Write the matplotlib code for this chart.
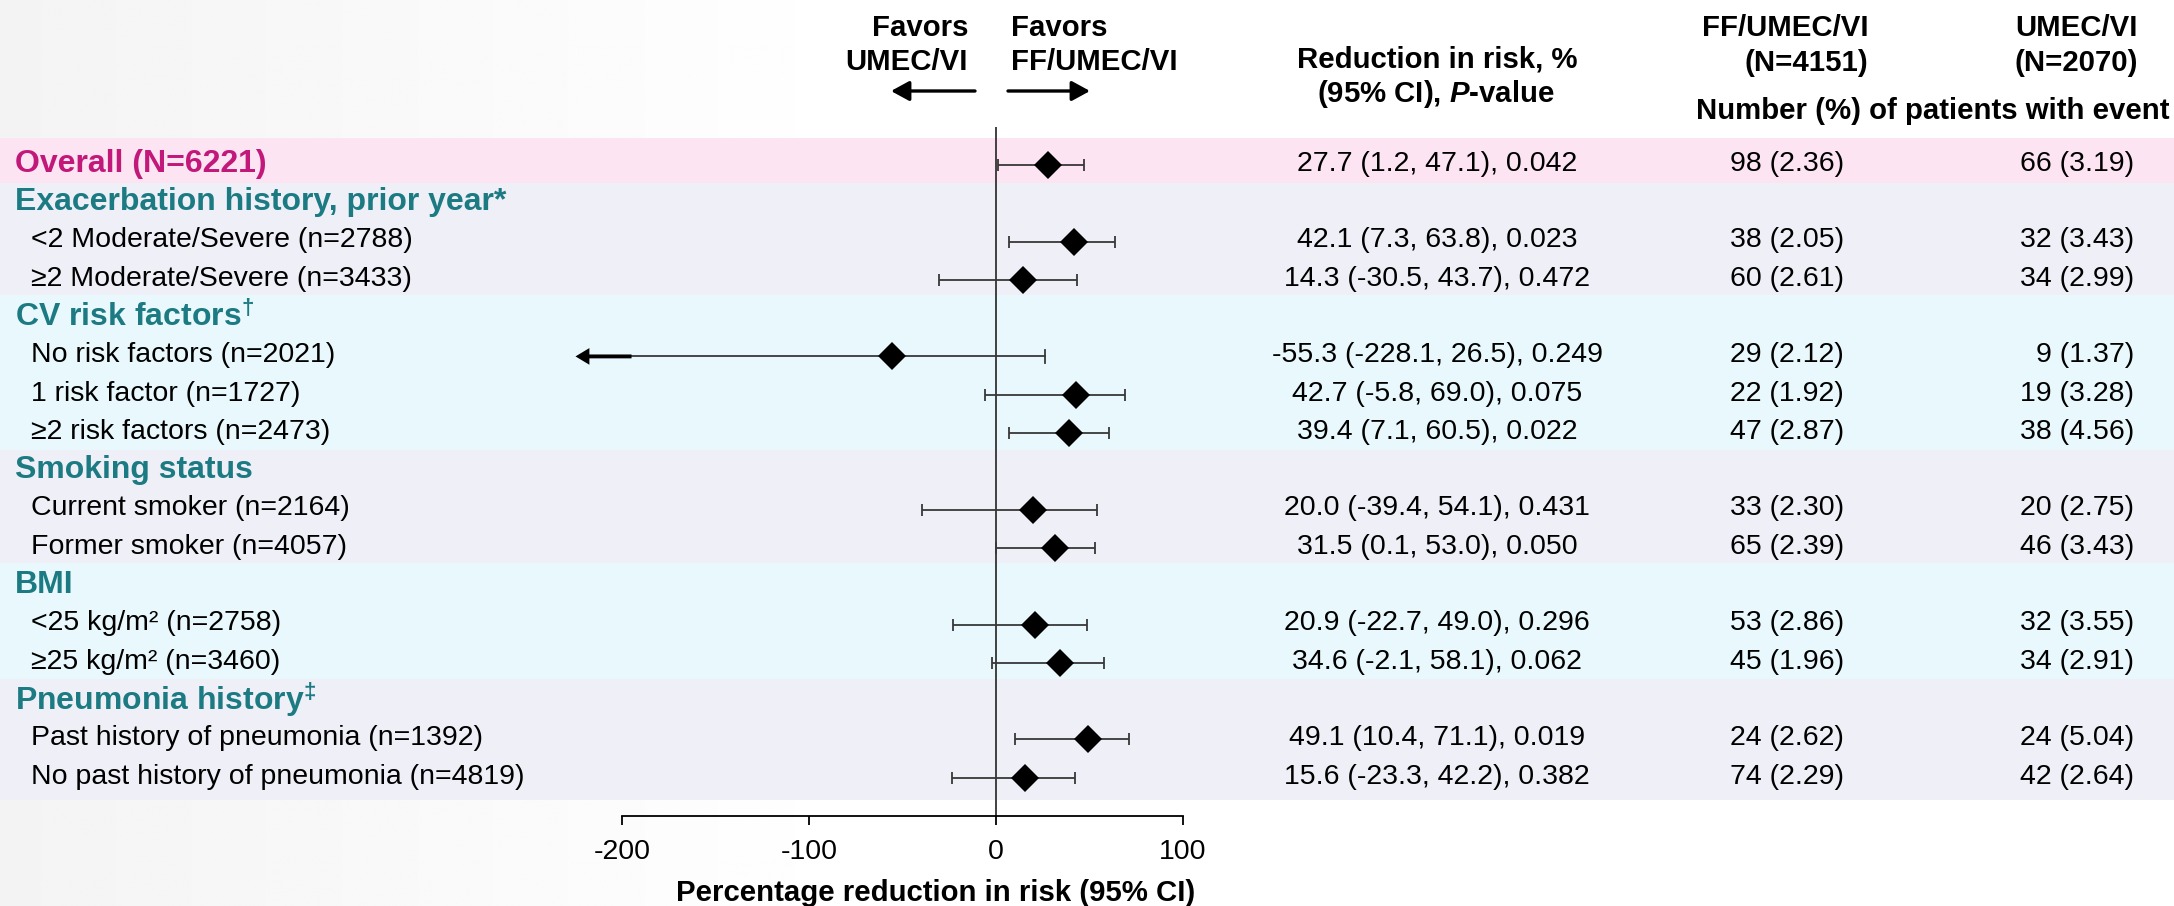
import numpy as np
import matplotlib
matplotlib.use("Agg")
import matplotlib.pyplot as plt

plt.rcParams['font.family'] = ['Liberation Sans', 'DejaVu Sans']
plt.rcParams['axes.unicode_minus'] = False
plt.rcParams['mathtext.fontset'] = 'custom'
plt.rcParams['mathtext.rm'] = 'Liberation Sans:bold'
plt.rcParams['mathtext.it'] = 'Liberation Sans:bold:italic'
plt.rcParams['mathtext.bf'] = 'Liberation Sans:bold'

# ---- data ----
labels = [
    "Overall (N=6221)",
    "Exacerbation history, prior year*",
    "<2 Moderate/Severe (n=2788)",
    "\u22652 Moderate/Severe (n=3433)",
    r"CV risk factors$^{\dagger}$",
    "No risk factors (n=2021)",
    "1 risk factor (n=1727)",
    "\u22652 risk factors (n=2473)",
    "Smoking status",
    "Current smoker (n=2164)",
    "Former smoker (n=4057)",
    "BMI",
    "<25 kg/m\u00b2 (n=2758)",
    "\u226525 kg/m\u00b2 (n=3460)",
    r"Pneumonia history$^{\ddagger}$",
    "Past history of pneumonia (n=1392)",
    "No past history of pneumonia (n=4819)",
]
kind = ["overall", "head", "item", "item", "head", "item", "item", "item",
        "head", "item", "item", "head", "item", "item", "head", "item", "item"]

est = [27.7, None, 42.1, 14.3, None, -55.3, 42.7, 39.4, None, 20.0, 31.5, None, 20.9, 34.6, None, 49.1, 15.6]
lo = [1.2, None, 7.3, -30.5, None, -228.1, -5.8, 7.1, None, -39.4, 0.1, None, -22.7, -2.1, None, 10.4, -23.3]
hi = [47.1, None, 63.8, 43.7, None, 26.5, 69.0, 60.5, None, 54.1, 53.0, None, 49.0, 58.1, None, 71.1, 42.2]
pval = ["0.042", None, "0.023", "0.472", None, "0.249", "0.075", "0.022", None, "0.431", "0.050", None,
        "0.296", "0.062", None, "0.019", "0.382"]
ff_events = ["98 (2.36)", None, "38 (2.05)", "60 (2.61)", None, "29 (2.12)", "22 (1.92)", "47 (2.87)", None,
             "33 (2.30)", "65 (2.39)", None, "53 (2.86)", "45 (1.96)", None, "24 (2.62)", "74 (2.29)"]
um_events = ["66 (3.19)", None, "32 (3.43)", "34 (2.99)", None, "9 (1.37)", "19 (3.28)", "38 (4.56)", None,
             "20 (2.75)", "46 (3.43)", None, "32 (3.55)", "34 (2.91)", None, "24 (5.04)", "42 (2.64)"]

xticks = [-200, -100, 0, 100]
CLIP_LO = -225

# group bands (row bounds) and their colours
band_edges = [-0.7, 0.47, 3.4, 7.45, 10.4, 13.42, 16.58]
band_colors = ["#fce4f2", "#efeff8", "#e8f8fc", "#efeff8", "#e8f8fc", "#efeff8"]

PINK = "#c2187a"
TEAL = "#1c7b82"
FS = 20.5
FS_HEAD = 23
FS_TOP = 21.2

W, H = 2174, 906
fig = plt.figure(figsize=(W / 100, H / 100), dpi=100)
fig.patch.set_facecolor("white")


def fx(px):
    return px / W


def fy(py):
    return 1 - py / H


# faint grey wash at the left like a slide background
bg = fig.add_axes([0, 0, 1, 1], zorder=-5)
grad = np.linspace(0.955, 1.0, 400)
grad = np.clip(np.concatenate([grad, np.ones(600)]), 0, 1)
bg.imshow(np.tile(grad, (10, 1)), cmap="gray", vmin=0, vmax=1, aspect="auto", extent=[0, 1, 0, 1])
bg.axis("off")

# main axes spans whole width, zero at px 995.8, 1.868 px per unit
ax = fig.add_axes([0, fy(816), 1, fy(127) - fy(816)])
ax.patch.set_alpha(0)
ax.set_xlim(-995.8 / 1.868, (W - 995.8) / 1.868)
ax.set_ylim(17.0, -0.99)

for i in range(len(band_colors)):
    ax.axhspan(band_edges[i], band_edges[i + 1], color=band_colors[i], lw=0, zorder=0)

ax.axvline(0, color="#333333", lw=1.3, zorder=2)

rows = np.arange(len(labels))
for r in rows:
    if est[r] is None:
        continue
    if lo[r] < CLIP_LO:
        ax.plot([CLIP_LO + 20, hi[r]], [r, r], color="#383838", lw=1.3, zorder=3)
        ax.plot([hi[r], hi[r]], [r - 0.16, r + 0.16], color="#383838", lw=1.3, zorder=3)
        ax.annotate("", xy=(CLIP_LO, r), xytext=(CLIP_LO + 30, r),
                    arrowprops=dict(width=2.8, headwidth=12, headlength=10, color="black", lw=0), zorder=4)
    else:
        ax.errorbar(est[r], r, xerr=[[est[r] - lo[r]], [hi[r] - est[r]]], fmt="none",
                    ecolor="#383838", elinewidth=1.3, capsize=4.5, capthick=1.3, zorder=3)
    ax.plot(est[r], r, marker="D", ms=14.2, color="black", mew=0, zorder=5)

ax.set_yticks([])
for s in ["top", "left", "right"]:
    ax.spines[s].set_visible(False)
ax.spines["bottom"].set_bounds(-200, 100)
ax.spines["bottom"].set_linewidth(1.3)
ax.set_xticks(xticks)
ax.tick_params(axis="x", direction="out", length=6.5, width=1.3, labelsize=FS, pad=10)

yt = ax.get_yaxis_transform()
for r in rows:
    ty = r - 0.03
    if kind[r] == "overall":
        ax.text(fx(15), ty, labels[r], transform=yt, fontsize=FS_HEAD, fontweight="bold", color=PINK, va="center")
    elif kind[r] == "head":
        ax.text(fx(15), ty, labels[r], transform=yt, fontsize=FS_HEAD, fontweight="bold", color=TEAL, va="center")
    else:
        ax.text(fx(31), ty, labels[r], transform=yt, fontsize=FS, color="black", va="center")
    if est[r] is not None:
        ax.text(fx(1437), ty, f"{est[r]:.1f} ({lo[r]:.1f}, {hi[r]:.1f}), {pval[r]}", transform=yt,
                fontsize=FS, ha="center", va="center")
        ax.text(fx(1844), ty, ff_events[r], transform=yt, fontsize=FS, ha="right", va="center")
        ax.text(fx(2134), ty, um_events[r], transform=yt, fontsize=FS, ha="right", va="center")

# header
hb = dict(fontsize=FS_TOP, fontweight="bold", va="center")
fig.text(fx(968), fy(28), "Favors", ha="right", **hb)
fig.text(fx(968), fy(62), "UMEC/VI", ha="right", **hb)
fig.text(fx(1011), fy(28), "Favors", ha="left", **hb)
fig.text(fx(1011), fy(62), "FF/UMEC/VI", ha="left", **hb)
fig.text(fx(1437), fy(59), "Reduction in risk, %", ha="center", **hb)
fig.text(fx(1436), fy(94), r"(95% CI), $\mathit{P}$-value", ha="center", **hb)
fig.text(fx(1785), fy(28), "FF/UMEC/VI", ha="center", **hb)
fig.text(fx(1868), fy(63), "(N=4151)", ha="right", **hb)
fig.text(fx(2076), fy(28), "UMEC/VI", ha="center", **hb)
fig.text(fx(2076), fy(63), "(N=2070)", ha="center", **hb)
fig.text(fx(1933), fy(111), "Number (%) of patients with event", ha="center", **hb)
fig.text(fx(936), fy(893), "Percentage reduction in risk (95% CI)", ha="center", **hb)

arr = dict(arrowstyle="-|>,head_length=0.55,head_width=0.3", color="black", lw=2.4,
           shrinkA=0, shrinkB=0, mutation_scale=20)
fig.add_artist(matplotlib.patches.FancyArrowPatch((fx(975), fy(91)), (fx(891), fy(91)),
                                                  transform=fig.transFigure, **arr))
fig.add_artist(matplotlib.patches.FancyArrowPatch((fx(1008), fy(91)), (fx(1090), fy(91)),
                                                  transform=fig.transFigure, **arr))

fig.savefig("out.png", dpi=100)
